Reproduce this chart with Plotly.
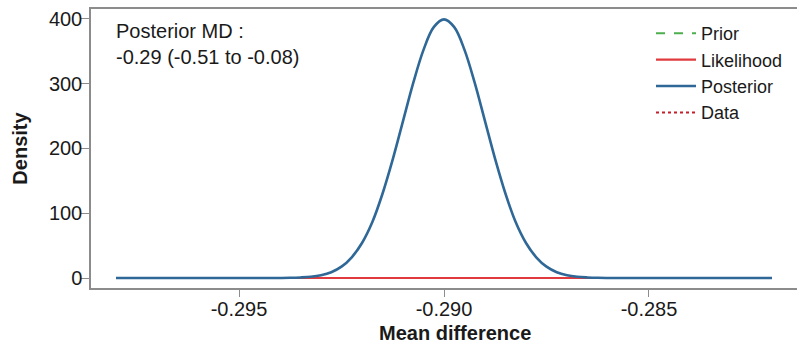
import plotly.graph_objects as go

# Values
x_vals = [-0.2980, -0.2975, -0.2970, -0.2965, -0.2960, -0.2955, -0.2950, -0.2945,
          -0.2940, -0.29375, -0.2935, -0.29325, -0.2930, -0.29275, -0.2925, -0.29225,
          -0.2920, -0.29175, -0.2915, -0.29125, -0.2910, -0.29075, -0.2905, -0.29025,
          -0.2900,
          -0.28975, -0.2895, -0.28925, -0.2890, -0.28875, -0.2885, -0.28825, -0.2880,
          -0.28775, -0.2875, -0.28725, -0.2870, -0.28675, -0.2865, -0.28625, -0.2860,
          -0.2855, -0.2850, -0.2845, -0.2840, -0.2835, -0.2830, -0.2825, -0.2820]
posterior = [0, 0, 0, 0, 0, 0, 0, 0,
             0.1, 0.3, 0.9, 2, 4.4, 9, 17.5, 32,
             54, 86, 130, 183, 242, 301, 352, 387,
             399,
             387, 352, 301, 242, 183, 130, 86, 54,
             32, 17.5, 9, 4.4, 2, 0.9, 0.3, 0.1,
             0, 0, 0, 0, 0, 0, 0, 0]
likelihood = [0] * len(x_vals)
prior = [0] * len(x_vals)
data_line = [0] * len(x_vals)

x_ticks = [-0.295, -0.290, -0.285]
x_tick_text = ["-0.295", "-0.290", "-0.285"]
y_ticks = [0, 100, 200, 300, 400]

FONT = "Liberation Sans, Arial, sans-serif"
TXT = "#1a1a1a"
AX = "#8c8c8c"

fig = go.Figure()
fig.add_trace(go.Scatter(x=x_vals, y=prior, mode="lines", name="Prior", legendrank=1,
                         line=dict(color="#4cae4c", width=2, dash="dash")))
fig.add_trace(go.Scatter(x=x_vals, y=data_line, mode="lines", name="Data", legendrank=4,
                         line=dict(color="#c3202c", width=2, dash="dot")))
fig.add_trace(go.Scatter(x=x_vals, y=likelihood, mode="lines", name="Likelihood", legendrank=2,
                         line=dict(color="#e03a3e", width=2.2)))
fig.add_trace(go.Scatter(x=x_vals, y=posterior, mode="lines", name="Posterior", legendrank=3,
                         line=dict(color="#2f6897", width=2.6, shape="spline")))

fig.add_annotation(text="Posterior MD :<br>-0.29 (-0.51 to -0.08)", xref="paper", yref="paper",
                   x=(114 - 91) / 706, y=1 - (18 - 9) / 279, xanchor="left", yanchor="top",
                   showarrow=False, align="left", font=dict(family=FONT, size=20, color=TXT))
fig.add_annotation(text="<b>Mean difference</b>", xref="paper", yref="paper",
                   x=(455 - 91) / 706, y=-(333 - 288) / 279, xanchor="center", yanchor="middle",
                   showarrow=False, font=dict(family=FONT, size=20, color=TXT))

fig.update_layout(
    width=797, height=346,
    margin=dict(l=91, r=0, t=9, b=58, autoexpand=False),
    paper_bgcolor="white", plot_bgcolor="white",
    font=dict(family=FONT, size=20, color=TXT),
    showlegend=True,
    legend=dict(x=(651 - 91) / 706, y=1 - (15 - 9) / 279, xanchor="left", yanchor="top",
                bgcolor="rgba(0,0,0,0)", font=dict(family=FONT, size=18, color=TXT),
                itemwidth=40, tracegroupgap=0),
    xaxis=dict(range=[-0.29861, -0.28139], tickvals=x_ticks, ticktext=x_tick_text,
               showgrid=False, zeroline=False, showline=True, mirror=True, linecolor=AX,
               linewidth=1.5, ticks="outside", ticklen=7, tickcolor=AX, tickwidth=1.2,
               ticklabelstandoff=-5,
               automargin=False, tickfont=dict(family=FONT, size=20, color=TXT)),
    yaxis=dict(range=[-15.4, 415], tickvals=y_ticks, showgrid=False, zeroline=False,
               showline=True, mirror=False, linecolor=AX, linewidth=1.5, ticks="outside",
               ticklen=9, tickcolor=AX, tickwidth=1.2, automargin=False,
               ticklabelstandoff=-6,
               tickfont=dict(family=FONT, size=20, color=TXT),
               title=dict(text="<b>Density</b>", font=dict(family=FONT, size=20, color=TXT),
                          standoff=16)),
)

fig.write_html("out.html", config={"displayModeBar": False},
               post_script="document.body.style.margin='0';document.body.style.overflow='hidden';")
